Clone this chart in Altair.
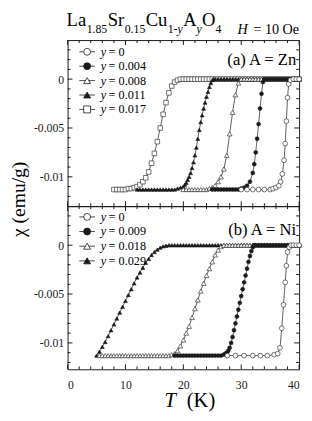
import altair as alt
import pandas as pd

FONT = "Liberation Serif, Times New Roman, Times, Nimbus Roman, DejaVu Serif, serif"

# ---------------- panel (a) A = Zn : T (K), chi (1e-3 emu/g) ----------------
ZN_Y0_T = [30, 31, 32, 33, 34, 35, 35.5, 36, 36.5, 36.8, 37.1, 37.4, 37.6, 37.8, 38.0, 38.2, 38.5, 39, 39.5, 40]
ZN_Y0_C = [-11.3, -11.3, -11.3, -11.3, -11.3, -11.3, -11.2, -11.1, -10.9, -10.5, -9.7, -8.3, -6.6, -4.3, -1.9, -0.5, -0.1, 0, 0, 0]

ZN_Y004_T = [25, 25.5, 26, 26.5, 27, 27.5, 28, 28.5, 29, 29.5, 30, 30.5, 31, 31.5,
             32, 32.25, 32.5, 32.75, 33, 33.25, 33.5, 33.75, 34,
             34.5, 35, 35.5, 36, 36.5, 37, 37.5, 38, 38.5, 39, 39.5, 40]
ZN_Y004_C = [-11.3, -11.3, -11.3, -11.3, -11.3, -11.3, -11.3, -11.3, -11.3, -11.3, -11.2, -11.1, -10.9, -10.5,
             -9.6, -8.7, -7.5, -6.1, -4.6, -3.0, -1.5, -0.3, 0,
             0, 0, 0, 0, 0, 0, 0, 0, 0, 0, 0, 0]

ZN_Y008_T = [20, 20.5, 21, 21.5, 22, 22.5, 23, 23.5,
             24, 24.5, 25, 25.5, 26, 26.5, 27, 27.5, 28, 28.5, 29, 29.5, 30,
             30.5, 31, 31.5, 32, 32.5, 33, 33.5, 34, 34.5, 35, 35.5, 36, 36.5, 37, 37.5, 38, 38.5, 39, 39.5, 40]
ZN_Y008_C = [-11.3, -11.3, -11.3, -11.3, -11.3, -11.3, -11.3, -11.3,
             -11.3, -11.2, -11.1, -10.9, -10.5, -10.0, -9.2, -7.8, -5.6, -3.4, -1.6, -0.4, 0,
             0, 0, 0, 0, 0, 0, 0, 0, 0, 0, 0, 0, 0, 0, 0, 0, 0, 0, 0, 0]

ZN_Y011_T = [12, 12.5, 13, 13.5, 14, 14.5, 15, 15.5, 16, 16.5, 17, 17.5, 18, 18.5, 19, 19.5,
             20, 20.25, 20.5, 20.75, 21, 21.25, 21.5, 21.75, 22, 22.25, 22.5, 22.75,
             23, 23.25, 23.5, 23.75, 24, 24.25, 24.5, 24.75, 25, 25.25, 25.5,
             26, 26.5, 27, 27.5, 28, 28.5, 29, 29.5, 30, 30.5, 31, 31.5, 32, 32.5, 33, 33.5,
             34, 34.5, 35, 35.5, 36, 36.5, 37, 37.5, 38, 38.5, 39, 39.5, 40]
ZN_Y011_C = [-11.3, -11.3, -11.3, -11.3, -11.3, -11.3, -11.3, -11.3, -11.3, -11.3, -11.3, -11.3, -11.3, -11.3, -11.2, -11.1,
             -11.0, -10.8, -10.6, -10.3, -10.0, -9.6, -9.1, -8.5, -7.8, -7.0, -6.1, -5.2,
             -4.4, -3.7, -3.0, -2.4, -1.8, -1.3, -0.8, -0.4, -0.1, 0, 0,
             0, 0, 0, 0, 0, 0, 0, 0, 0, 0, 0, 0, 0, 0, 0, 0,
             0, 0, 0, 0, 0, 0, 0, 0, 0, 0, 0, 0, 0]

ZN_Y017_T = [8, 8.5, 9, 9.5, 10, 10.5, 11, 11.5, 12, 12.5, 13, 13.5, 14, 14.5, 15, 15.5,
             16, 16.5, 17, 17.5, 18, 18.5, 19, 19.5,
             20, 20.5, 21, 21.5, 22, 22.5, 23, 23.5, 24, 24.5, 25, 25.5, 26, 26.5, 27, 27.5,
             28, 28.5, 29, 29.5, 30, 30.5, 31, 31.5, 32, 32.5, 33, 33.5, 34, 34.5, 35, 35.5,
             36, 36.5, 37, 37.5, 38, 38.5, 39, 39.5, 40]
ZN_Y017_C = [-11.3, -11.3, -11.3, -11.3, -11.3, -11.2, -11.2, -11.1, -11.0, -10.8, -10.5, -10.1, -9.5, -8.6, -7.6, -6.4,
             -5.0, -3.6, -2.4, -1.4, -0.7, -0.3, -0.1, 0,
             0, 0, 0, 0, 0, 0, 0, 0, 0, 0, 0, 0, 0, 0, 0, 0,
             0, 0, 0, 0, 0, 0, 0, 0, 0, 0, 0, 0, 0, 0, 0, 0,
             0, 0, 0, 0, 0, 0, 0, 0, 0]

# ---------------- panel (b) A = Ni ----------------
NI_Y0_T = [27.6, 29, 30.5, 32, 33.3, 34.5, 35.7, 36.3, 36.7, 37.0, 37.3, 37.6, 37.8, 38.0, 38.3, 38.6, 39, 39.5, 40]
NI_Y0_C = [-11.3, -11.3, -11.3, -11.3, -11.3, -11.3, -11.2, -11.1, -10.5, -8.5, -6.1, -3.8, -2.1, -0.7, -0.2, 0, 0, 0, 0]

NI_Y009_T = [18.5, 19, 19.5, 20, 20.5, 21, 21.5, 22, 22.5, 23, 23.5, 24, 24.5, 25, 25.5, 26, 26.5,
             27, 27.25, 27.5, 27.75, 28, 28.25, 28.5, 28.75, 29, 29.25, 29.5, 29.75,
             30, 30.25, 30.5, 30.75, 31, 31.25, 31.5, 31.75, 32, 32.25, 32.5,
             33, 33.5, 34, 34.5, 35, 35.5, 36, 36.5, 37, 37.5, 38, 38.5, 39, 39.5, 40]
NI_Y009_C = [-11.3, -11.3, -11.3, -11.3, -11.3, -11.3, -11.3, -11.3, -11.3, -11.3, -11.3, -11.3, -11.3, -11.3, -11.3, -11.3, -11.3,
             -11.2, -11.1, -11.0, -10.8, -10.5, -10.0, -9.4, -8.7, -8.0, -7.3, -6.6, -5.9,
             -5.2, -4.5, -3.8, -3.1, -2.4, -1.7, -1.1, -0.6, -0.2, 0, 0,
             0, 0, 0, 0, 0, 0, 0, 0, 0, 0, 0, 0, 0, 0, 0]

NI_Y018_T = [5.5, 6, 6.5, 7, 7.5, 8, 8.5, 9, 9.5, 10, 10.5, 11, 11.5, 12, 12.5, 13, 13.5, 14, 14.5, 15,
             15.5, 16, 16.5, 17, 17.5,
             18, 18.5, 19, 19.5, 20, 20.5, 21, 21.5, 22, 22.5, 23, 23.5, 24, 24.5, 25, 25.5, 26, 26.5, 27,
             27.5, 28, 28.5, 29, 29.5, 30, 30.5, 31, 31.5, 32, 32.5, 33, 33.5, 34, 34.5, 35,
             35.5, 36, 36.5, 37, 37.5, 38, 38.5, 39, 39.5, 40]
NI_Y018_C = [-11.3, -11.3, -11.3, -11.3, -11.3, -11.3, -11.3, -11.3, -11.3, -11.3, -11.3, -11.3, -11.3, -11.3, -11.3,
             -11.3, -11.3, -11.3, -11.3, -11.3, -11.3, -11.3, -11.3, -11.3, -11.3,
             -11.2, -11.1, -10.8, -10.3, -9.7, -9.0, -8.3, -7.4, -6.5, -5.6, -4.7, -3.9, -3.1, -2.4, -1.7, -1.0, -0.5, -0.15, 0,
             0, 0, 0, 0, 0, 0, 0, 0, 0, 0, 0, 0, 0, 0, 0, 0,
             0, 0, 0, 0, 0, 0, 0, 0, 0, 0]

NI_Y029_T = [5, 5.5, 6, 6.5, 7, 7.5, 8, 8.5, 9, 9.5, 10, 10.5, 11, 11.5, 12, 12.5, 13, 13.5, 14, 14.5,
             15, 15.5, 16, 16.5, 17, 17.5,
             18, 18.5, 19, 19.5, 20, 20.5, 21, 21.5, 22, 22.5, 23, 23.5, 24, 24.5, 25, 25.5, 26, 26.5, 27, 27.5,
             28, 28.5, 29, 29.5, 30, 30.5, 31, 31.5, 32, 32.5, 33, 33.5, 34, 34.5, 35, 35.5,
             36, 36.5, 37, 37.5, 38, 38.5, 39, 39.5, 40]
NI_Y029_C = [-11.3, -10.9, -10.4, -9.9, -9.3, -8.7, -8.1, -7.5, -6.9, -6.3, -5.7, -5.1, -4.5, -3.9, -3.3, -2.8,
             -2.3, -1.8, -1.4, -1.0, -0.7, -0.45, -0.25, -0.12, -0.05, 0,
             0, 0, 0, 0, 0, 0, 0, 0, 0, 0, 0, 0, 0, 0, 0, 0, 0, 0, 0, 0,
             0, 0, 0, 0, 0, 0, 0, 0, 0, 0, 0, 0, 0, 0, 0, 0,
             0, 0, 0, 0, 0, 0, 0, 0, 0]

# ---------------- series meta ----------------
ZN_LABELS = ["0", "0.004", "0.008", "0.011", "0.017"]
ZN_SHAPES = ["circle", "circle", "triangle-up", "triangle-up", "square"]
ZN_FILLED = [False, True, False, True, False]
ZN_DATA = [(ZN_Y0_T, ZN_Y0_C), (ZN_Y004_T, ZN_Y004_C), (ZN_Y008_T, ZN_Y008_C),
           (ZN_Y011_T, ZN_Y011_C), (ZN_Y017_T, ZN_Y017_C)]

NI_LABELS = ["0", "0.009", "0.018", "0.029"]
NI_SHAPES = ["circle", "circle", "triangle-up", "triangle-up"]
NI_FILLED = [False, True, False, True]
NI_DATA = [(NI_Y0_T, NI_Y0_C), (NI_Y009_T, NI_Y009_C), (NI_Y018_T, NI_Y018_C), (NI_Y029_T, NI_Y029_C)]

X_MAJOR = [0, 10, 20, 30, 40]
X_MINOR = [2, 4, 6, 8, 12, 14, 16, 18, 22, 24, 26, 28, 32, 34, 36, 38]
Y_MAJOR = [0, -0.005, -0.01]
Y_MINOR = [0.003, 0.002, 0.001, -0.001, -0.002, -0.003, -0.004, -0.006, -0.007, -0.008,
           -0.009, -0.011, -0.012]

for t, c in ZN_DATA + NI_DATA:
    assert len(t) == len(c), (len(t), len(c))

W = 237
HA, HB = 170, 167
INK = "#1a1a1a"
ONE = pd.DataFrame({"k": [0]})
XS = alt.Scale(domain=[0, 40], nice=False, zero=False)
YSA = alt.Scale(domain=[-0.013, 0.004], nice=False, zero=False)
YSB = alt.Scale(domain=[-0.0127, 0.004], nice=False, zero=False)

Y_AXIS = alt.Axis(values=Y_MAJOR, ticks=False, domain=False, grid=False, title=None,
                  labelExpr="datum.value == 0 ? '0' : '-' + format(-datum.value, '~g')",
                  labelFont=FONT, labelFontSize=12, labelPadding=4, labelColor=INK)
X_AXIS = alt.Axis(values=X_MAJOR, format="d", ticks=False, domain=False, grid=False, title=None,
                  labelFont=FONT, labelFontSize=12, labelPadding=11, labelColor=INK)


def txt(s, x, y, size, italic=False, align="left", angle=0, baseline="alphabetic"):
    kw = dict(font=FONT, fontSize=size, align=align, baseline=baseline, color="black")
    if italic:
        kw["fontStyle"] = "italic"
    if angle:
        kw["angle"] = angle
    return alt.Chart(ONE).mark_text(**kw).encode(x=alt.value(x), y=alt.value(y), text=alt.value(s))


def panel(data, labels, shapes, filled, yscale, height, xaxis, leg_y0, leg_dy, tag, tag_y, extra):
    xs = lambda f: alt.X(f, scale=XS, axis=xaxis)
    ys = lambda f: alt.Y(f, scale=yscale, axis=Y_AXIS)
    layers = []
    # ticks (inward, all four sides)
    for vals, L in ((X_MAJOR, 5), (X_MINOR, 3)):
        d = alt.Chart(pd.DataFrame({"v": vals}))
        layers.append(d.mark_rule(color=INK, strokeWidth=1).encode(
            x=xs("v:Q"), y=alt.value(height), y2=alt.value(height - L)))
        layers.append(d.mark_rule(color=INK, strokeWidth=1).encode(
            x=xs("v:Q"), y=alt.value(0), y2=alt.value(L)))
    for vals, L in ((Y_MAJOR, 5), (Y_MINOR, 3)):
        d = alt.Chart(pd.DataFrame({"v": vals}))
        layers.append(d.mark_rule(color=INK, strokeWidth=1).encode(
            y=ys("v:Q"), x=alt.value(0), x2=alt.value(L)))
        layers.append(d.mark_rule(color=INK, strokeWidth=1).encode(
            y=ys("v:Q"), x=alt.value(W), x2=alt.value(W - L)))
    # curves: drawn from largest y to y = 0 so that y = 0 is on top
    for i in reversed(range(len(data))):
        T, C = data[i]
        df = pd.DataFrame({"T": T, "chi": [c * 1e-3 for c in C]})
        base = alt.Chart(df)
        layers.append(base.mark_line(color=INK, strokeWidth=0.7).encode(x=xs("T:Q"), y=ys("chi:Q")))
        size = 16 if filled[i] else 24
        if shapes[i] == "square":
            size = 22
        layers.append(base.mark_point(shape=shapes[i], filled=True, opacity=1,
                                      fill=INK if filled[i] else "white", stroke=INK,
                                      strokeWidth=0.6, size=size).encode(x=xs("T:Q"), y=ys("chi:Q")))
    # legend
    for i, lab in enumerate(labels):
        yy = leg_y0 + leg_dy * i
        layers.append(alt.Chart(ONE).mark_rule(color=INK, strokeWidth=0.8).encode(
            x=alt.value(12), x2=alt.value(28), y=alt.value(yy)))
        layers.append(alt.Chart(ONE).mark_point(shape=shapes[i], filled=True, opacity=1,
                                                fill=INK if filled[i] else "white", stroke=INK,
                                                strokeWidth=0.8, size=50).encode(
            x=alt.value(20), y=alt.value(yy)))
        layers.append(txt("y", 34, yy + 4, 12.5, italic=True))
        layers.append(txt("= " + lab, 42, yy + 4, 12.5))
    layers.append(txt(tag, 234, tag_y, 17, align="right"))
    layers.extend(extra)
    return alt.layer(*layers).properties(width=W, height=height)


TB, TS = -14, -7
MS, SS = 19, 12
title_parts = [
    txt("La", -1, TB, MS), txt("1.85", 19.5, TS, SS), txt("Sr", 41, TB, MS), txt("0.15", 58.5, TS, SS),
    txt("Cu", 80, TB, MS), txt("1-", 102.5, TS, SS), txt("y", 112.5, TS, SS, italic=True),
    txt("A", 118.5, TB, MS), txt("y", 132, TS, SS, italic=True), txt("O", 137.5, TB, MS), txt("4", 151.5, TS, SS),
    txt("H", 174, -6, 14.5, italic=True), txt("= 10 Oe", 237, -6, 14.5, align="right"),
    txt("\u03c7 (emu/g)", -50, 163, 20, align="center", angle=270, baseline="middle"),
]
xlabel_parts = [txt("T", 111, 206, 21, italic=True, align="right"), txt("(K)", 122, 206, 21)]

top = panel(ZN_DATA, ZN_LABELS, ZN_SHAPES, ZN_FILLED, YSA, HA, None, 12, 14.75, "(a) A = Zn", 26, title_parts)
bot = panel(NI_DATA, NI_LABELS, NI_SHAPES, NI_FILLED, YSB, HB, X_AXIS, 11, 15, "(b) A = Ni", 30, xlabel_parts)

chart = alt.vconcat(top, bot, spacing=0, bounds="flush").properties(
    padding={"left": 0, "top": -2, "right": 0, "bottom": 0}, background="white"
).configure_view(stroke=INK, strokeWidth=1)

chart.save("out.html", embed_options={"renderer": "svg", "actions": False})
